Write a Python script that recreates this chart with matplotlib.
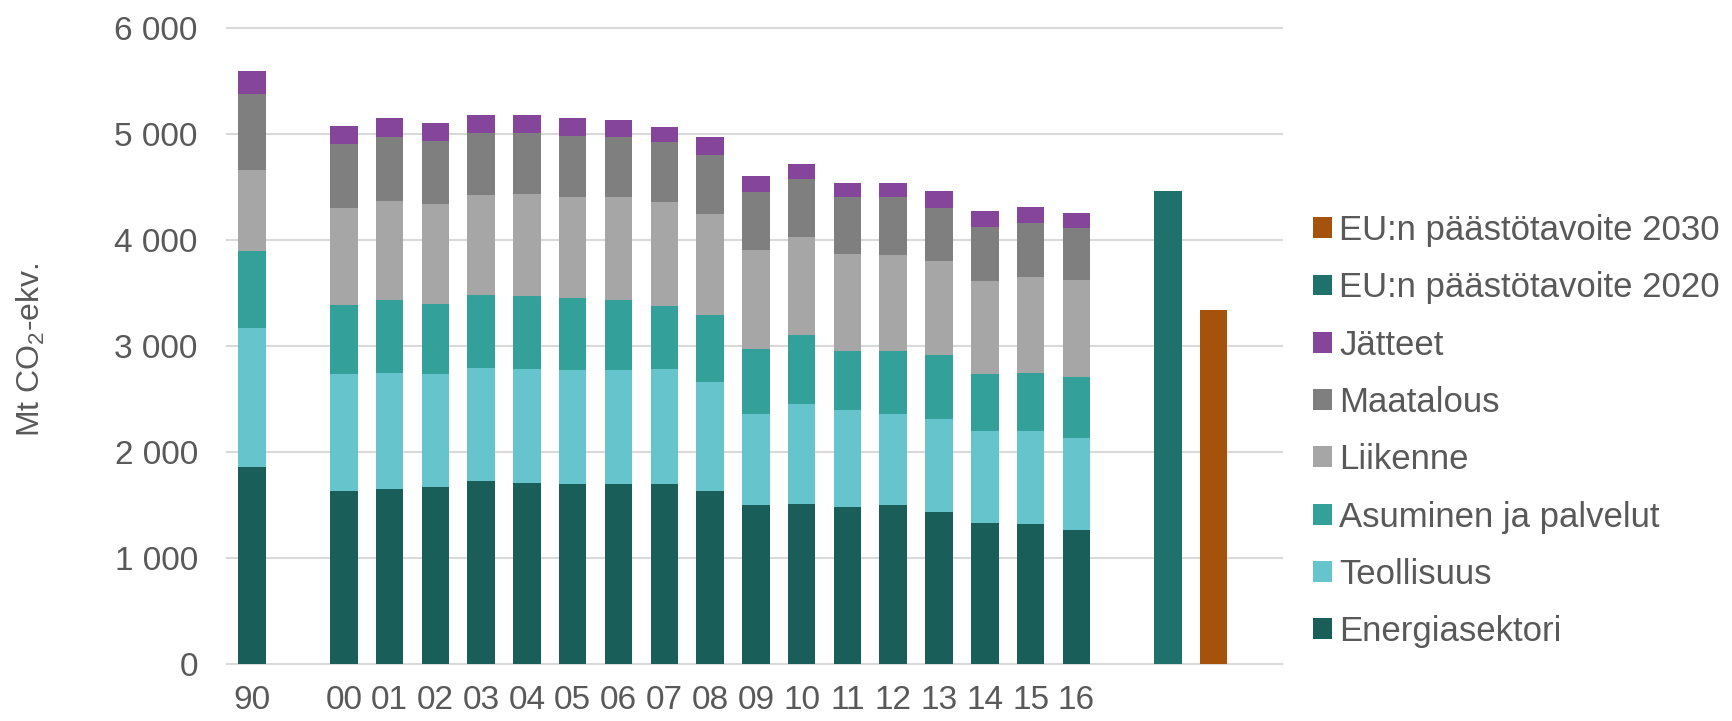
import matplotlib
matplotlib.use("Agg")
import matplotlib.pyplot as plt
import numpy as np

plt.rcParams['font.family'] = ['Liberation Sans', 'DejaVu Sans']
plt.rcParams['mathtext.fontset'] = 'custom'
plt.rcParams['mathtext.rm'] = 'Liberation Sans'
plt.rcParams['mathtext.it'] = 'Liberation Sans:italic'

# Emission sectors, Mt CO2-eq per year
years = ["90", "00", "01", "02", "03", "04", "05", "06", "07", "08",
         "09", "10", "11", "12", "13", "14", "15", "16"]
energiasektori = [1857, 1629, 1653, 1672, 1722, 1710, 1695, 1695, 1695, 1631,
                  1495, 1512, 1484, 1495, 1429, 1334, 1321, 1268]
teollisuus = [1313, 1106, 1094, 1063, 1071, 1075, 1079, 1079, 1090, 1024,
              860, 937, 913, 860, 878, 861, 874, 861]
asuminen = [725, 647, 689, 659, 682, 682, 677, 654, 586, 634,
            614, 656, 554, 596, 606, 540, 551, 578]
liikenne = [766, 917, 928, 943, 947, 967, 952, 975, 982, 955,
            937, 923, 913, 903, 885, 875, 902, 913]
maatalous = [713, 601, 605, 594, 586, 574, 578, 566, 566, 557,
             547, 547, 537, 547, 505, 508, 509, 491]
jatteet = [216, 177, 177, 173, 165, 165, 165, 162, 147, 164,
           150, 136, 136, 136, 153, 150, 150, 139]

tavoite_2020 = 4456
tavoite_2030 = 3341

sector_names = ["Energiasektori", "Teollisuus", "Asuminen ja palvelut",
                "Liikenne", "Maatalous", "Jätteet"]
sector_colors = ["#1a5e5a", "#66c4cc", "#33a09a", "#a6a6a6", "#7f7f7f", "#84459a"]
target_names = ["EU:n päästötavoite 2020", "EU:n päästötavoite 2030"]
target_colors = ["#1f716c", "#a5520c"]

text_color = "#595959"
grid_color = "#d9d9d9"

# Category slots: 1990, a gap, 2000-2016, a gap, the two targets
year_pos = np.array([0] + list(range(2, 19)), dtype=float)
target_pos = [20, 21]
width = 0.6

fig = plt.figure(figsize=(17.33, 7.21), dpi=100)
ax = fig.add_axes([0.131, 0.079, 0.609, 0.8827])

handles = {}
bottom = np.zeros(len(years))
for name, vals, col in zip(sector_names,
                           [energiasektori, teollisuus, asuminen, liikenne, maatalous, jatteet],
                           sector_colors):
    vals = np.array(vals, dtype=float)
    h = ax.bar(year_pos, vals, width, bottom=bottom, color=col, label=name, zorder=3)
    handles[name] = h
    bottom += vals

h20 = ax.bar(target_pos[0], tavoite_2020, width, color=target_colors[0],
             label=target_names[0], zorder=3)
h30 = ax.bar(target_pos[1], tavoite_2030, width, color=target_colors[1],
             label=target_names[1], zorder=3)
handles[target_names[0]] = h20
handles[target_names[1]] = h30

ax.set_xlim(-0.55, 22.5)
ax.set_ylim(0, 6000)
ax.set_yticks(np.arange(0, 6001, 1000))
ax.set_yticklabels(["0", "1 000", "2 000", "3 000", "4 000", "5 000", "6 000"])
ax.set_xticks(year_pos)
ax.set_xticklabels(years)

ax.grid(axis='y', color=grid_color, linewidth=1.5, zorder=0)
for gl in ax.get_ygridlines():
    gl.set_clip_on(False)
for s in ["top", "right", "left"]:
    ax.spines[s].set_visible(False)
ax.spines["bottom"].set_color(grid_color)
ax.spines["bottom"].set_linewidth(1.5)

ax.tick_params(axis='both', length=0, labelsize=24, colors=text_color)
ax.tick_params(axis='y', pad=21)
ax.tick_params(axis='x', pad=15)

ax.set_ylabel(r"Mt CO$_2$-ekv.", fontsize=23, color=text_color)
ax.yaxis.set_label_coords(31 / 1733, 1 - 350 / 721, transform=fig.transFigure)
ax.yaxis.label.set_verticalalignment('center')

order = target_names[::-1] + sector_names[::-1]
leg = ax.legend([handles[n] for n in order], order,
                loc='upper left', bbox_to_anchor=(1313 / 1733, 1 - 214 / 721),
                bbox_transform=fig.transFigure, frameon=False,
                fontsize=25, handlelength=0.55, handleheight=0.55,
                handletextpad=0.2, labelspacing=0.70, borderaxespad=0,
                borderpad=0)
for t in leg.get_texts():
    t.set_color(text_color)

fig.savefig("out.png", dpi=100)
